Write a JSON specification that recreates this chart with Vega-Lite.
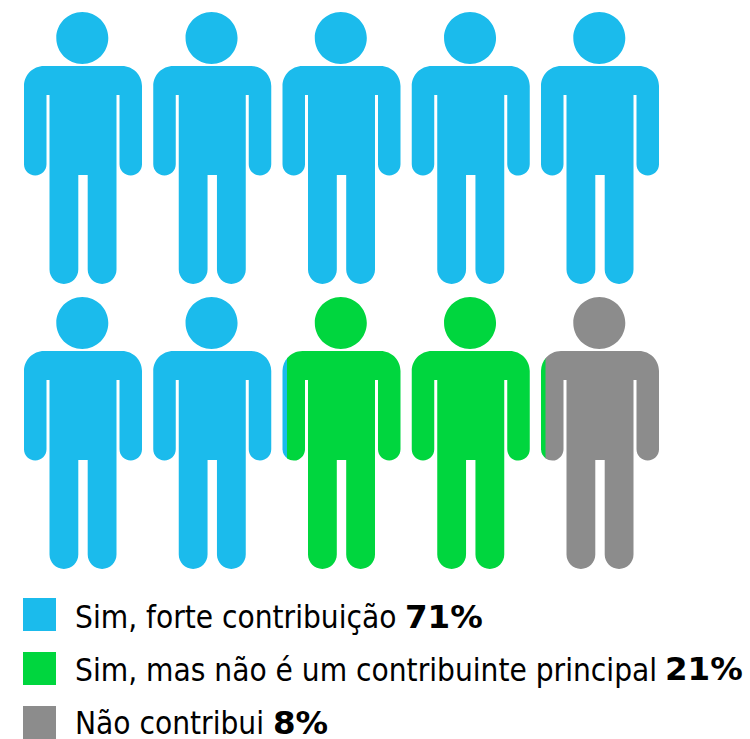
{"$schema":"https://vega.github.io/schema/vega-lite/v6.json","width":750,"height":739,"padding":0,"autosize":{"type":"fit","contains":"padding"},"background":"white","view":{"stroke":null},"datasets":{"pessoas":[{"coluna":1,"linha":1,"categoria":"Sim, forte contribuição","parte":"inteira"},{"coluna":2,"linha":1,"categoria":"Sim, forte contribuição","parte":"inteira"},{"coluna":3,"linha":1,"categoria":"Sim, forte contribuição","parte":"inteira"},{"coluna":4,"linha":1,"categoria":"Sim, forte contribuição","parte":"inteira"},{"coluna":5,"linha":1,"categoria":"Sim, forte contribuição","parte":"inteira"},{"coluna":1,"linha":2,"categoria":"Sim, forte contribuição","parte":"inteira"},{"coluna":2,"linha":2,"categoria":"Sim, forte contribuição","parte":"inteira"},{"coluna":3,"linha":2,"categoria":"Sim, forte contribuição","parte":"fatia"},{"coluna":3,"linha":2,"categoria":"Sim, mas não é um contribuinte principal","parte":"restante"},{"coluna":4,"linha":2,"categoria":"Sim, mas não é um contribuinte principal","parte":"inteira"},{"coluna":5,"linha":2,"categoria":"Sim, mas não é um contribuinte principal","parte":"fatia"},{"coluna":5,"linha":2,"categoria":"Não contribui","parte":"restante"}],"totais":[{"categoria":"Sim, forte contribuição","percentual":"71%"},{"categoria":"Sim, mas não é um contribuinte principal","percentual":"21%"},{"categoria":"Não contribui","percentual":"8%"}]},"layer":[{"data":{"name":"pessoas"},"mark":{"type":"point","filled":true,"size":4,"opacity":1,"strokeWidth":0},"encoding":{"x":{"field":"coluna","type":"ordinal","axis":null,"scale":{"type":"point","padding":0,"range":[83,600]}},"y":{"field":"linha","type":"ordinal","axis":null,"scale":{"type":"point","padding":0,"range":[148,433]}},"color":{"field":"categoria","type":"nominal","legend":null,"scale":{"domain":["Sim, forte contribuição","Sim, mas não é um contribuinte principal","Não contribui"],"range":["#1BBBEC","#00D63E","#8C8C8C"]}},"shape":{"field":"parte","type":"nominal","legend":null,"scale":{"domain":["inteira","fatia","restante"],"range":["M -26.7 -110 A 26 26 0 1 1 25.3 -110 A 26 26 0 1 1 -26.7 -110 Z M -39 -82 L 39 -82 A 20 20 0 0 1 59 -62 L 59 16.35 A 11.25 11.25 0 0 1 36.5 16.35 L 36.5 -53 L 33.5 -53 L 33.5 121.6 A 14.4 14.4 0 0 1 4.7 121.6 L 4.7 27 L -4.7 27 L -4.7 121.6 A 14.4 14.4 0 0 1 -33.5 121.6 L -33.5 -53 L -36.5 -53 L -36.5 16.35 A 11.25 11.25 0 0 1 -59 16.35 L -59 -62 A 20 20 0 0 1 -39 -82 Z","M -59 -62 A 20 20 0 0 1 -53.5 -75.77 L -53.5 26.02 A 11.25 11.25 0 0 1 -59 16.35 Z","M -26.7 -110 A 26 26 0 1 1 25.3 -110 A 26 26 0 1 1 -26.7 -110 Z M -39 -82 L 39 -82 A 20 20 0 0 1 59 -62 L 59 16.35 A 11.25 11.25 0 0 1 36.5 16.35 L 36.5 -53 L 33.5 -53 L 33.5 121.6 A 14.4 14.4 0 0 1 4.7 121.6 L 4.7 27 L -4.7 27 L -4.7 121.6 A 14.4 14.4 0 0 1 -33.5 121.6 L -33.5 -53 L -36.5 -53 L -36.5 16.35 A 11.25 11.25 0 0 1 -54.5 25.35 L -54.5 -74.6 A 20 20 0 0 1 -39 -82 Z"]}}}},{"data":{"name":"totais"},"mark":{"type":"point","shape":"square","filled":true,"size":1089,"opacity":1,"strokeWidth":0,"dx":39.5},"encoding":{"x":{"datum":0,"type":"quantitative","axis":null,"scale":{"domain":[0,1],"range":[39.5,750]}},"y":{"field":"categoria","type":"nominal","axis":null,"sort":["Sim, forte contribuição","Sim, mas não é um contribuinte principal","Não contribui"],"scale":{"type":"point","padding":0,"range":[614.5,722.5]}},"color":{"field":"categoria","type":"nominal","legend":null}}},{"data":{"name":"totais"},"mark":{"type":"text","font":"DejaVu Sans Condensed","fontSize":31.3,"align":"left","baseline":"alphabetic","color":"#000000"},"encoding":{"x":{"datum":0,"type":"quantitative","axis":null,"scale":{"domain":[0,1],"range":[75,750]}},"y":{"field":"categoria","type":"nominal","axis":null,"sort":["Sim, forte contribuição","Sim, mas não é um contribuinte principal","Não contribui"],"scale":{"type":"point","padding":0,"range":[628,734]}},"text":{"field":"categoria"}}},{"data":{"name":"totais"},"transform":[{"filter":"datum.percentual === '71%'"}],"mark":{"type":"text","font":"DejaVu Sans","fontWeight":"bold","fontSize":32.5,"align":"left","baseline":"alphabetic","color":"#000000","dx":405},"encoding":{"x":{"datum":0,"type":"quantitative","axis":null,"scale":{"domain":[0,1],"range":[0,750]}},"y":{"datum":0,"type":"quantitative","axis":null,"scale":{"domain":[0,1],"range":[628,0]}},"text":{"field":"percentual"}}},{"data":{"name":"totais"},"transform":[{"filter":"datum.percentual === '21%'"}],"mark":{"type":"text","font":"DejaVu Sans","fontWeight":"bold","fontSize":32.5,"align":"left","baseline":"alphabetic","color":"#000000","dx":665},"encoding":{"x":{"datum":0,"type":"quantitative","axis":null,"scale":{"domain":[0,1],"range":[0,750]}},"y":{"datum":0,"type":"quantitative","axis":null,"scale":{"domain":[0,1],"range":[680,0]}},"text":{"field":"percentual"}}},{"data":{"name":"totais"},"transform":[{"filter":"datum.percentual === '8%'"}],"mark":{"type":"text","font":"DejaVu Sans","fontWeight":"bold","fontSize":32.5,"align":"left","baseline":"alphabetic","color":"#000000","dx":273},"encoding":{"x":{"datum":0,"type":"quantitative","axis":null,"scale":{"domain":[0,1],"range":[0,750]}},"y":{"datum":0,"type":"quantitative","axis":null,"scale":{"domain":[0,1],"range":[734,0]}},"text":{"field":"percentual"}}}],"resolve":{"scale":{"x":"independent","y":"independent"}}}
